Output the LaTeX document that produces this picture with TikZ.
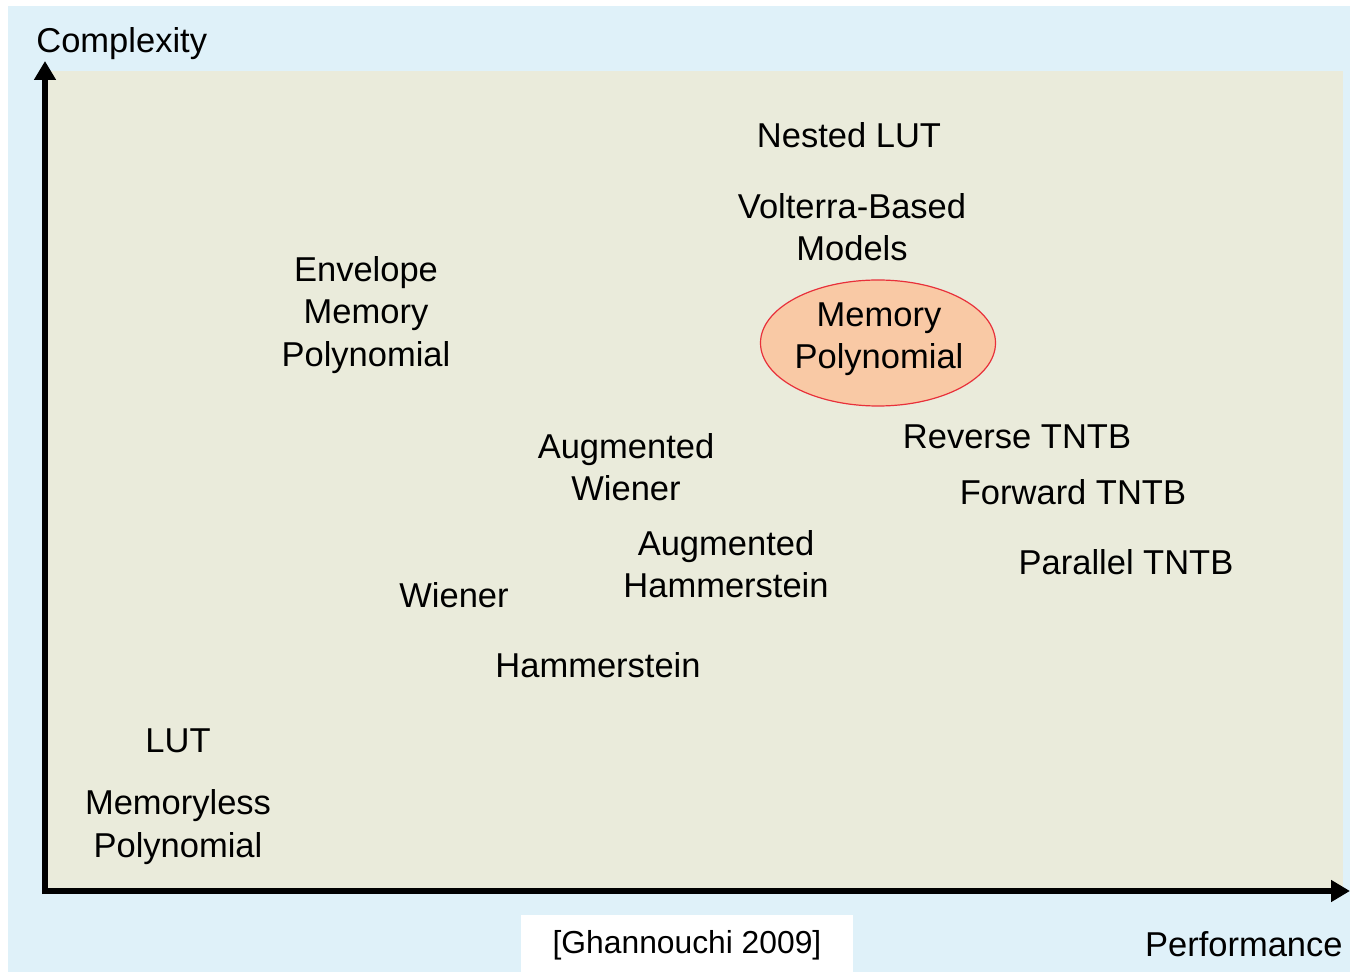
\documentclass[tikz,border=0pt]{standalone}
\usepackage{fontspec}
\setmainfont{Liberation Sans}
\usepackage{tikz}
\usetikzlibrary{arrows.meta,positioning,shapes.geometric}
\definecolor{outerbg}{HTML}{DFF1F9}
\definecolor{plotbg}{HTML}{EAEBDB}
\definecolor{hilite}{HTML}{F9C9A5}
\definecolor{hiliteedge}{HTML}{E8303A}
\tikzset{
  model/.style={align=center, font=\fontsize{17.25}{21.2}\selectfont, inner sep=0pt},
  axislabel/.style={font=\fontsize{17.25}{21.2}\selectfont, inner sep=0pt},
  citelabel/.style={font=\fontsize{15.9}{19}\selectfont, inner sep=0pt},
  axisline/.style={line width=3pt, -{Triangle[length=9.5pt, width=10.5pt]}},
  chosen/.style={ellipse, draw=hiliteedge, fill=hilite, line width=0.6pt, minimum width=117.5pt, minimum height=63pt},
}

\begin{document}
\begin{tikzpicture}[x=0.5pt, y=-0.5pt]
  \useasboundingbox (0,0) rectangle (1350,972);
  \fill[outerbg] (8,6) rectangle (1350,972);
  \fill[plotbg] (45,71) rectangle (1343,891);

  % Axes
  \coordinate (origin) at (42,891);
  \coordinate (ytip) at (45,61);
  \coordinate (xtip) at (1350,891);
  \draw[axisline] (45,894) -- (ytip);
  \draw[axisline] (origin) -- (xtip);
  \node[axislabel, anchor=west] (ylab) at (36,44) {Complexity};
  \node[axislabel, anchor=east] (xlab) at (1343,944) {Performance};

  % Highlighted model
  \node[chosen] (mp) at (878,343) {};
  \node[model] (mptext) at (879,339) {Memory\\Polynomial};

  % Model labels
  \node[model] (nlut) at (849,135) {Nested LUT};
  \node[model] (volt) at (852,227) {Volterra-Based\\Models};
  \node[model] (emp) at (366,315) {Envelope\\Memory\\Polynomial};
  \node[model] (rtntb) at (1017,437) {Reverse TNTB};
  \node[model] (ftntb) at (1073,492) {Forward TNTB};
  \node[model] (ptntb) at (1126,562) {Parallel TNTB};
  \node[model] (awien) at (626,467) {Augmented\\Wiener};
  \node[model] (aham) at (726,564) {Augmented\\Hammerstein};
  \node[model] (wien) at (454,595) {Wiener};
  \node[model] (ham) at (598,665) {Hammerstein};
  \node[model] (lut) at (178,741) {LUT};
  \node[model] (mlp) at (178,827) {Memoryless\\Polynomial};

  % Citation
  \fill[white] (521,915) rectangle (853,972);
  \node[citelabel] (cite) at (687,945) {[Ghannouchi 2009]};
\end{tikzpicture}
\end{document}
